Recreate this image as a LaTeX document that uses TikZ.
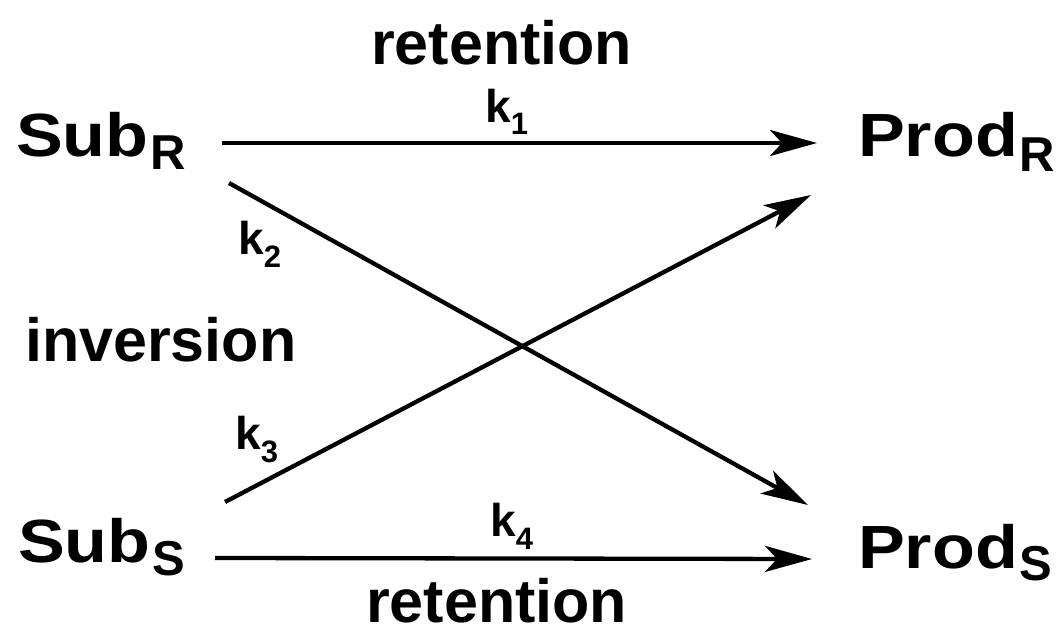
\documentclass[tikz,border=0pt]{standalone}
\usepackage{fontspec}
\setmainfont{Liberation Sans}
\usetikzlibrary{arrows.meta}
\newcommand{\chemlab}[3]{\scalebox{1.15}[1]{#1}\hspace{2pt}\raisebox{-#3pt}{\fontsize{49}{49}\selectfont #2}}
\newcommand{\klab}[2]{k\raisebox{-#2pt}{\fontsize{31}{31}\selectfont #1}}
\begin{document}
\begin{tikzpicture}[x=1pt,y=1pt,
  lab/.style={inner sep=0pt, anchor=base west},
  big/.style={lab, font=\fontsize{61}{61}\selectfont\bfseries},
  word/.style={lab, font=\fontsize{61}{61}\selectfont\bfseries},
  ksty/.style={lab, font=\fontsize{46}{46}\selectfont\bfseries},
  rxn/.style={line width=4.3pt, -{Stealth[length=47pt, width=26pt, inset=12pt]}}]
\useasboundingbox (0,0) rectangle (1061,632);
% species
\node[big] (subR) at (16,475) {\chemlab{Sub}{R}{13}};
\node[big] (subS) at (18,69) {\chemlab{Sub}{S}{13}};
\node[big] (prodR) at (858,475) {\chemlab{Prod}{R}{15}};
\node[big] (prodS) at (858,63) {\chemlab{Prod}{S}{12}};
% words
\node[word] (retT) at (371,567) {retention};
\node[word] (inv) at (25,270) {inversion};
\node[word] (retB) at (366,9) {retention};
% rate constants
\node[ksty] (k1) at (485,509) {\klab{1}{12}};
\node[ksty] (k2) at (238,377) {\klab{2}{13}};
\node[ksty] (k3) at (235,182) {\klab{3}{13}};
\node[ksty] (k4) at (490,95) {\klab{4}{13}};
% arrow ends
\coordinate (a1s) at (222,489);
\coordinate (a1e) at (817,489);
\coordinate (a4s) at (215,74);
\coordinate (a4e) at (812,73);
\coordinate (a2s) at (229,449);
\coordinate (a2e) at (808,127);
\coordinate (a3s) at (225,130);
\coordinate (a3e) at (811,437);
\draw[rxn] (a1s) -- (a1e);
\draw[rxn] (a4s) -- (a4e);
\draw[rxn] (a2s) -- (a2e);
\draw[rxn] (a3s) -- (a3e);
\end{tikzpicture}
\end{document}
